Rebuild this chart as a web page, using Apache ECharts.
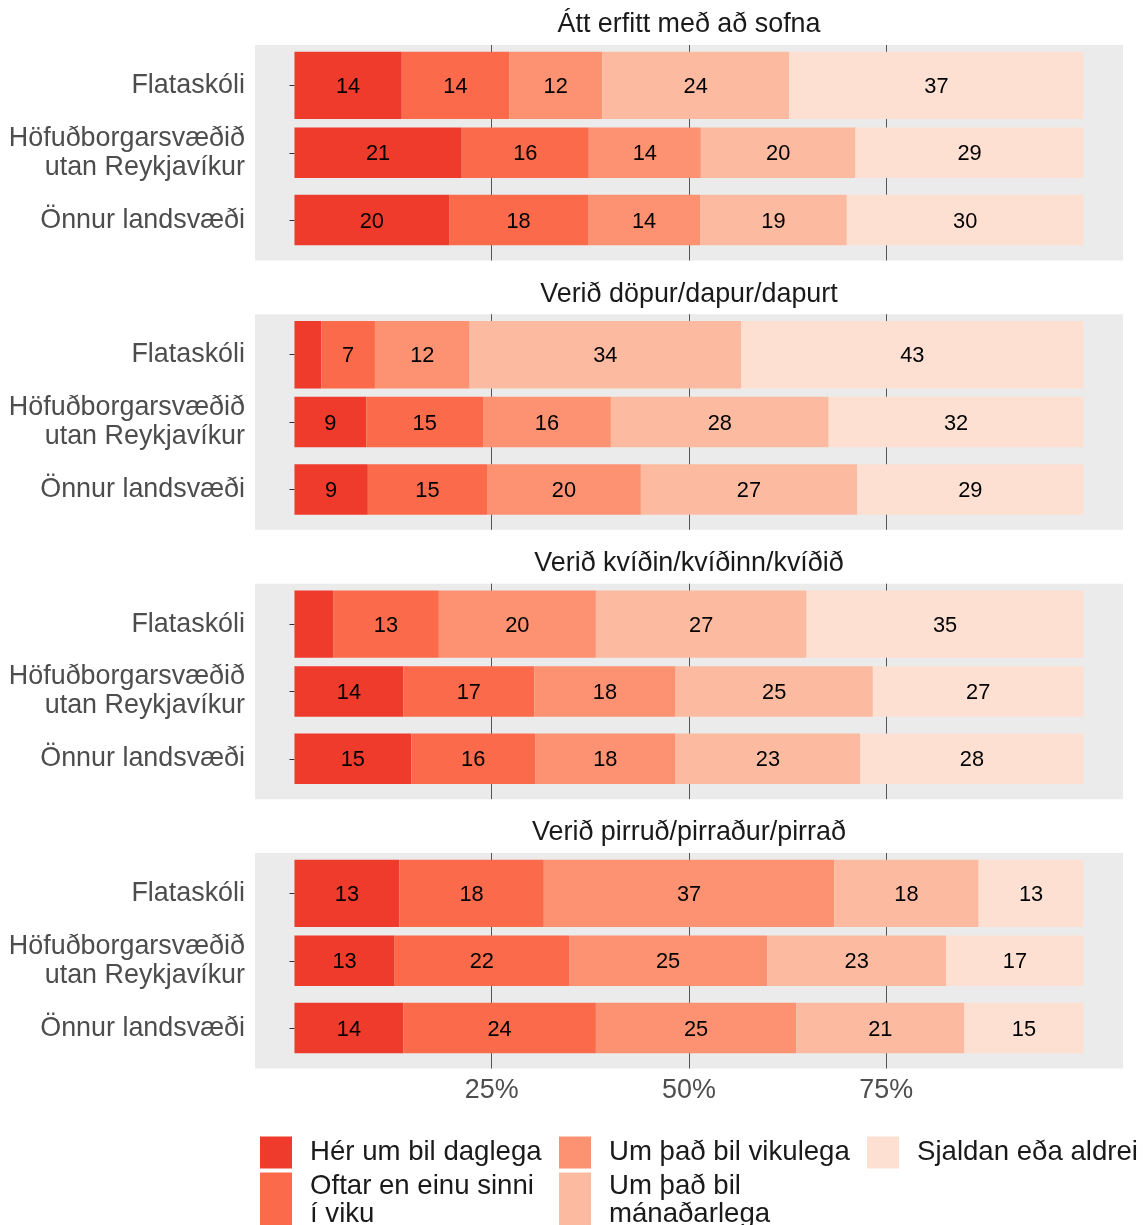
<!DOCTYPE html>
<html><head><meta charset="utf-8">
<script src="https://cdn.jsdelivr.net/npm/echarts@6/dist/echarts.min.js"></script>
<style>html,body{margin:0;padding:0;background:#fff}#c{width:1144px;height:1225px}</style>
</head><body><div id="c"></div>
<script>
// ---- data ----
const facets = ['Átt erfitt með að sofna', 'Verið döpur/dapur/dapurt', 'Verið kvíðin/kvíðinn/kvíðið', 'Verið pirruð/pirraður/pirrað'];
const regions = ['Flataskóli', 'Höfuðborgarsvæðið\nutan Reykjavíkur', 'Önnur landsvæði'];
const answers = ['Hér um bil daglega', 'Oftar en einu sinni í viku', 'Um það bil vikulega', 'Um það bil mánaðarlega', 'Sjaldan eða aldrei'];
const xTicks = [25, 50, 75];
// percent per region (rows) and answer (columns)
const sofna  = [[13.6, 13.6, 11.8, 23.7, 37.3], [21.2, 16.1, 14.2, 19.6, 28.9], [19.6, 17.6, 14.2, 18.6, 30.0]];
const dapur  = [[3.4, 6.8, 12.0, 34.4, 43.4],   [9.1, 14.8, 16.2, 27.6, 32.3],  [9.3, 15.1, 19.5, 27.4, 28.7]];
const kvidin = [[4.9, 13.4, 19.9, 26.7, 35.1],  [13.8, 16.6, 17.9, 25.0, 26.7], [14.8, 15.7, 17.8, 23.4, 28.3]];
const pirrud = [[13.3, 18.3, 36.8, 18.3, 13.3], [12.7, 22.1, 25.1, 22.7, 17.4], [13.8, 24.4, 25.4, 21.3, 15.1]];
const facetValues = [sofna, dapur, kvidin, pirrud];

// ---- styling ----
const colors = ['#EF3B2C', '#FB6A4A', '#FC9272', '#FCBBA1', '#FEE0D2'];
const FONT = 'Liberation Sans, Arial, Helvetica, sans-serif';
const panelTops = [45, 314.3, 583.7, 853];
const panelH = 215.5;
const rowWidth = [1, 0.75, 0.75];

const chart = echarts.init(document.getElementById('c'), null, {renderer: 'canvas'});

function renderItem(params, api) {
  const s = api.value(0), e = api.value(1), r = api.value(2), v = api.value(3);
  const a = api.coord([s, r]), b = api.coord([e, r]);
  const band = Math.abs(api.size([0, 1])[1]);
  const h = band * rowWidth[r];
  return {
    type: 'rect',
    shape: {x: a[0], y: a[1] - h / 2, width: b[0] - a[0], height: h},
    style: {fill: api.visual('color')},
    textContent: {style: {text: v >= 5 ? String(Math.round(v)) : '', fontSize: 21.8, fill: '#000', fontFamily: FONT}},
    textConfig: {position: 'inside', offset: [0, 1.5], insideFill: '#000', insideStroke: 'transparent'}
  };
}

const grid = [], xAxis = [], yAxis = [], title = [], series = [];
facets.forEach((f, i) => {
  grid.push({left: 255, right: 21, top: panelTops[i], height: panelH, show: true, backgroundColor: '#EBEBEB', borderWidth: 0});
  title.push({text: f, left: 689, top: panelTops[i] - 33.5, textAlign: 'center', padding: 0,
    textStyle: {fontSize: 26.9, fontWeight: 'normal', color: '#1A1A1A', fontFamily: FONT}});
  xAxis.push({gridIndex: i, type: 'value', min: -5, max: 105,
    axisLine: {show: false},
    axisTick: {show: i === 3, customValues: xTicks, length: 5, lineStyle: {color: '#333'}},
    axisLabel: {show: i === 3, customValues: xTicks, formatter: v => v + '%', color: '#4D4D4D', fontSize: 26.9, margin: 8.5, fontFamily: FONT},
    splitLine: {show: true, lineStyle: {color: '#555', width: 1}}});
  yAxis.push({gridIndex: i, type: 'value', min: -0.6, max: 2.6, inverse: true,
    axisLine: {show: false}, splitLine: {show: false},
    axisTick: {show: true, customValues: [0, 1, 2], length: 5, lineStyle: {color: '#333'}},
    axisLabel: {customValues: [0, 1, 2], formatter: v => regions[v], color: '#4D4D4D', fontSize: 26.9, lineHeight: 29,
      margin: 10, align: 'right', padding: [3, 0, 0, 0], fontFamily: FONT}});
  const vals = facetValues[i];
  answers.forEach((ans, k) => {
    const data = vals.map((row, r) => {
      let start = 0;
      for (let j = 0; j < k; j++) start += row[j];
      return [start, start + row[k], r, row[k]];
    });
    series.push({type: 'custom', name: ans, xAxisIndex: i, yAxisIndex: i, renderItem,
      itemStyle: {color: colors[k]}, encode: {x: [0, 1], y: 2}, data, z: 2});
  });
});

const legendDefs = [
  {k: 0, text: 'Hér um bil daglega', left: 260, top: 1136, h: 32},
  {k: 1, text: 'Oftar en einu sinni\ní viku', left: 260, top: 1170, h: 56},
  {k: 2, text: 'Um það bil vikulega', left: 559, top: 1136, h: 32},
  {k: 3, text: 'Um það bil\nmánaðarlega', left: 559, top: 1170, h: 56},
  {k: 4, text: 'Sjaldan eða aldrei', left: 867, top: 1136, h: 32}
];
const legend = legendDefs.map(d => ({
  data: [answers[d.k]], left: d.left, top: d.top, orient: 'vertical', icon: 'rect',
  itemWidth: 32, itemHeight: d.h, padding: 0, selectedMode: false,
  formatter: () => d.text,
  textStyle: {fontSize: 27.6, color: '#1A1A1A', lineHeight: 28, padding: [5, 0, 0, 13], fontFamily: FONT}
}));

chart.setOption({
  animation: false,
  textStyle: {fontFamily: FONT},
  title, grid, xAxis, yAxis, legend, series
});
</script></body></html>
